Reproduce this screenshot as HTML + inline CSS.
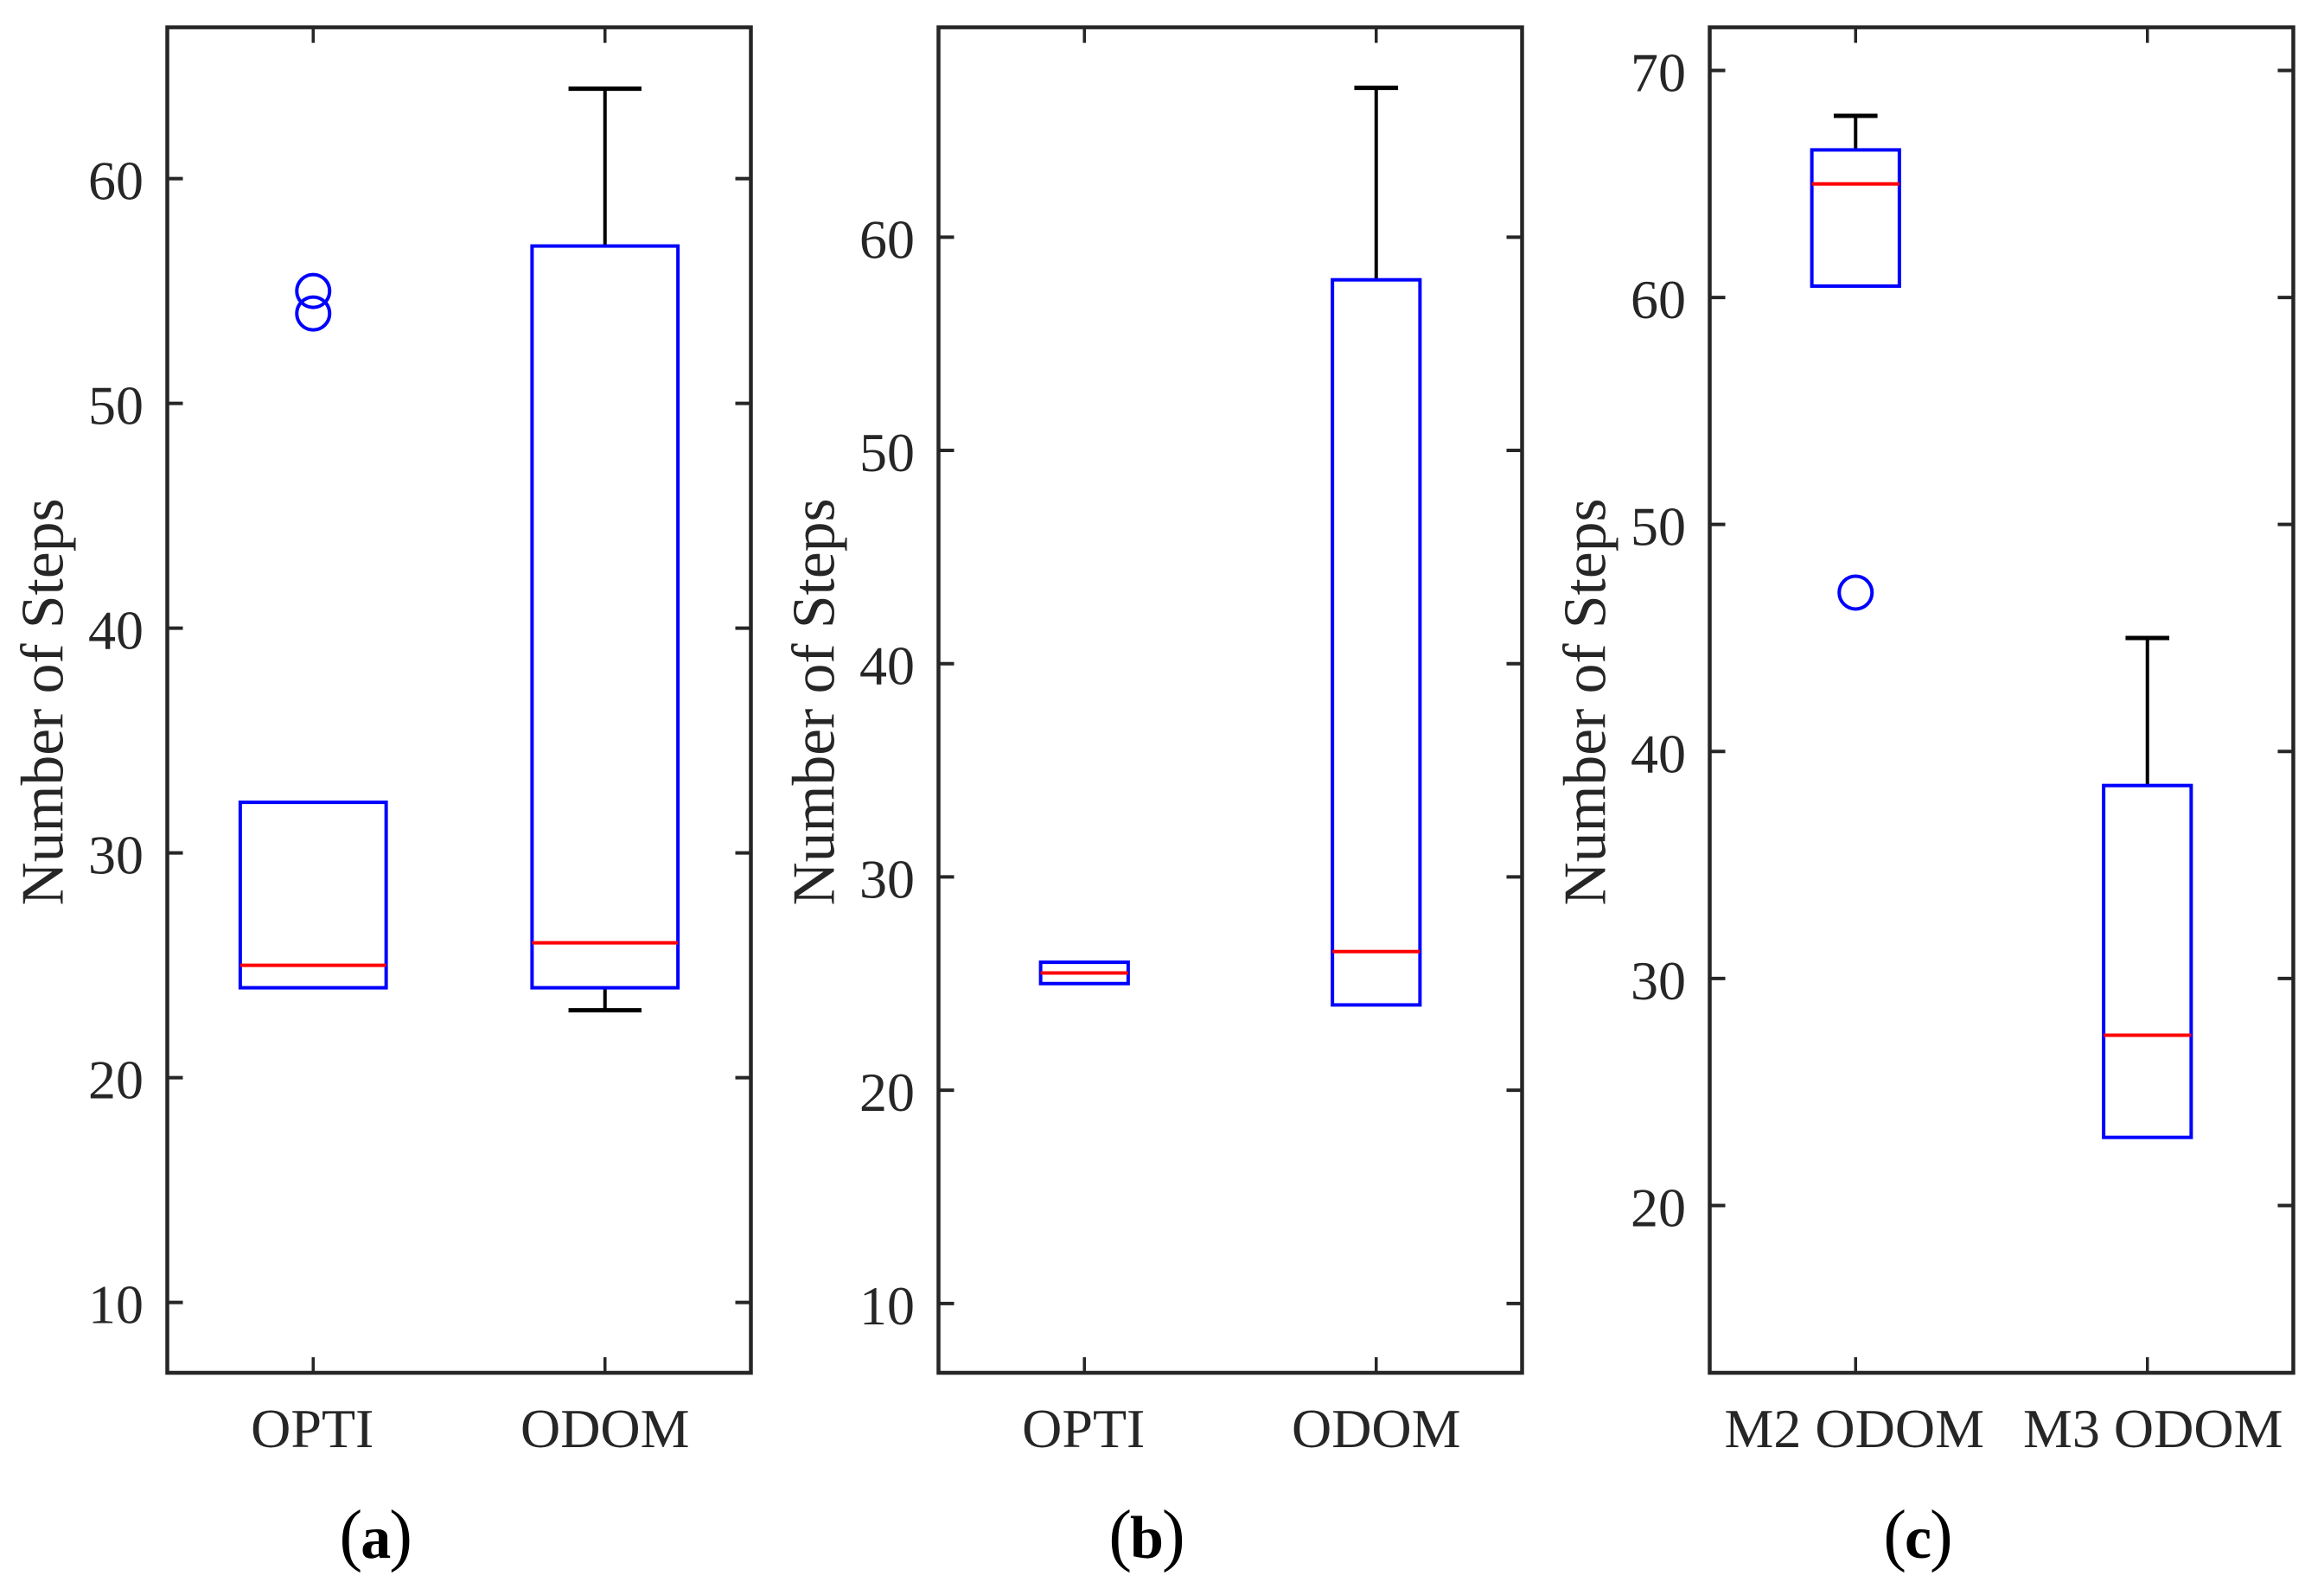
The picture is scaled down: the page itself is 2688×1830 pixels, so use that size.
<!DOCTYPE html>
<html lang="en">
<head>
<meta charset="utf-8">
<title>Number of Steps box plots</title>
<style>
  html, body { margin: 0; padding: 0; background: #fff; }
  body { width: 2688px; height: 1830px; overflow: hidden; }
  svg { display: block; }
  text { font-family: "Liberation Serif", "Times New Roman", serif; }
</style>
</head>
<body>
<svg id="figure" xmlns="http://www.w3.org/2000/svg" width="2688" height="1830" viewBox="0 0 2688 1830">
  <rect x="0" y="0" width="2688" height="1830" fill="#fff"/>
  <text transform="translate(72.7 812) rotate(-90)" text-anchor="middle" font-size="69.5" fill="#262626">Number of Steps</text>
  <text transform="translate(964.6 812) rotate(-90)" text-anchor="middle" font-size="69.5" fill="#262626">Number of Steps</text>
  <text transform="translate(1856.6 812) rotate(-90)" text-anchor="middle" font-size="69.5" fill="#262626">Number of Steps</text>
  <text x="434.7" y="1802" text-anchor="middle" font-size="80" fill="#000">(<tspan dx="-2" font-size="70" font-weight="bold">a</tspan><tspan dx="-2">)</tspan></text>
  <text x="1326.5" y="1802" text-anchor="middle" font-size="80" fill="#000">(<tspan dx="-2" font-size="70" font-weight="bold">b</tspan><tspan dx="-2">)</tspan></text>
  <text x="2218.5" y="1802" text-anchor="middle" font-size="80" fill="#000">(<tspan dx="-2" font-size="70" font-weight="bold">c</tspan><tspan dx="-2">)</tspan></text>
</svg>
<script>
// Panel (a)
const categoriesA = ["OPTI", "ODOM"];
const whiskerLowA = [24, 23];
const q1A = [24, 24];
const medianA = [25, 26];
const q3A = [32.25, 57];
const whiskerHighA = [32.25, 64];
const outliersA = [[54, 55], []];
const yTicksA = [10, 20, 30, 40, 50, 60];

// Panel (b)
const categoriesB = ["OPTI", "ODOM"];
const whiskerLowB = [25, 24];
const q1B = [25, 24];
const medianB = [25.5, 26.5];
const q3B = [26, 58];
const whiskerHighB = [26, 67];
const outliersB = [[], []];
const yTicksB = [10, 20, 30, 40, 50, 60];

// Panel (c)
const categoriesC = ["M2 ODOM", "M3 ODOM"];
const whiskerLowC = [60.5, 23];
const q1C = [60.5, 23];
const medianC = [65, 27.5];
const q3C = [66.5, 38.5];
const whiskerHighC = [68, 45];
const outliersC = [[47], []];
const yTicksC = [20, 30, 40, 50, 60, 70];

const panels = [
  { id: 'a', left: 193.5, yMin: 6.87, yMax: 66.73, boxWidth: 0.5, labelShift: [-1, 0],
    categories: categoriesA, low: whiskerLowA, q1: q1A, med: medianA, q3: q3A, high: whiskerHighA, outliers: outliersA, ticks: yTicksA },
  { id: 'b', left: 1085.5, yMin: 6.75, yMax: 69.84, boxWidth: 0.3, labelShift: [-1, 0],
    categories: categoriesB, low: whiskerLowB, q1: q1B, med: medianB, q3: q3B, high: whiskerHighB, outliers: outliersB, ticks: yTicksB },
  { id: 'c', left: 1977.5, yMin: 12.63, yMax: 71.9, boxWidth: 0.3, labelShift: [-1.5, 6.5],
    categories: categoriesC, low: whiskerLowC, q1: q1C, med: medianC, q3: q3C, high: whiskerHighC, outliers: outliersC, ticks: yTicksC }
];

const SVG_NS = 'http://www.w3.org/2000/svg';
const figure = document.getElementById('figure');
const PLOT_WIDTH = 675;
const PLOT_TOP = 31.6;
const PLOT_BOTTOM = 1588;
const AXIS_COLOR = '#262626';

function make(parent, tag, attrs) {
  const node = document.createElementNS(SVG_NS, tag);
  for (const key in attrs) node.setAttribute(key, attrs[key]);
  parent.appendChild(node);
  return node;
}

panels.forEach(function (panel) {
  const right = panel.left + PLOT_WIDTH;
  const xScale = function (pos) { return panel.left + (pos - 0.5) / 2 * PLOT_WIDTH; };
  const yScale = function (v) {
    return PLOT_BOTTOM - (v - panel.yMin) / (panel.yMax - panel.yMin) * (PLOT_BOTTOM - PLOT_TOP);
  };

  const group = make(figure, 'g', {});
  
  

  // y ticks and labels
  panel.ticks.forEach(function (tick) {
    const y = yScale(tick);
    const leftTick = make(group, 'line', { x1: panel.left, x2: panel.left + 18, y1: y, y2: y, stroke: AXIS_COLOR, 'stroke-width': 4 });
    
    
    const rightTick = make(group, 'line', { x1: right - 18, x2: right, y1: y, y2: y, stroke: AXIS_COLOR, 'stroke-width': 4 });
    
    
    const label = make(group, 'text', { x: panel.left - 27.5, y: y + 24, 'text-anchor': 'end', 'font-size': 64, fill: AXIS_COLOR });
    
    
    label.textContent = String(tick);
  });

  // categories
  panel.categories.forEach(function (name, i) {
    const pos = i + 1;
    const x = xScale(pos);
    const slug = name.toLowerCase().replace(/\s+/g, '-');

    const bottomTick = make(group, 'line', { x1: x, x2: x, y1: PLOT_BOTTOM, y2: PLOT_BOTTOM - 18, stroke: AXIS_COLOR, 'stroke-width': 3.5 });
    
    
    const topTick = make(group, 'line', { x1: x, x2: x, y1: PLOT_TOP, y2: PLOT_TOP + 18, stroke: AXIS_COLOR, 'stroke-width': 3.5 });
    
    
    const label = make(group, 'text', { x: x + panel.labelShift[i], y: 1674, 'text-anchor': 'middle', 'font-size': 64, fill: AXIS_COLOR });
    
    
    label.textContent = name;

    const halfBox = panel.boxWidth / 2 * PLOT_WIDTH / 2;
    const halfCap = halfBox / 2;
    const whiskerAttrs = { stroke: '#000', 'stroke-width': 4 };

    // A whisker that ends on the box edge collapses into the box, so it draws nothing.
    if (panel.high[i] !== panel.q3[i]) {
      const upper = make(group, 'line', Object.assign({ x1: x, x2: x, y1: yScale(panel.q3[i]), y2: yScale(panel.high[i]) }, whiskerAttrs));
      
      
      const upperCap = make(group, 'line', { x1: x - halfCap, x2: x + halfCap, y1: yScale(panel.high[i]), y2: yScale(panel.high[i]), stroke: '#000', 'stroke-width': 5 });
      
      
    }
    if (panel.low[i] !== panel.q1[i]) {
      const lower = make(group, 'line', Object.assign({ x1: x, x2: x, y1: yScale(panel.q1[i]), y2: yScale(panel.low[i]) }, whiskerAttrs));
      
      
      const lowerCap = make(group, 'line', { x1: x - halfCap, x2: x + halfCap, y1: yScale(panel.low[i]), y2: yScale(panel.low[i]), stroke: '#000', 'stroke-width': 5 });
      
      
    }

    const box = make(group, 'rect', {
      x: x - halfBox, y: yScale(panel.q3[i]), width: halfBox * 2,
      height: yScale(panel.q1[i]) - yScale(panel.q3[i]),
      fill: 'none', stroke: '#0000ff', 'stroke-width': 4
    });
    
    

    const median = make(group, 'line', { x1: x - halfBox, x2: x + halfBox, y1: yScale(panel.med[i]), y2: yScale(panel.med[i]), stroke: '#ff0000', 'stroke-width': 4 });
    
    

    panel.outliers[i].forEach(function (value) {
      const dot = make(group, 'circle', { cx: x, cy: yScale(value), r: 19, fill: 'none', stroke: '#0000ff', 'stroke-width': 4 });
      
      
    });
  });

  // frame drawn last so it sits over the ticks
  const frame = make(group, 'rect', { x: panel.left, y: PLOT_TOP, width: PLOT_WIDTH, height: PLOT_BOTTOM - PLOT_TOP, fill: 'none', stroke: AXIS_COLOR, 'stroke-width': 4.5 });
  
  
});
</script>
</body>
</html>
